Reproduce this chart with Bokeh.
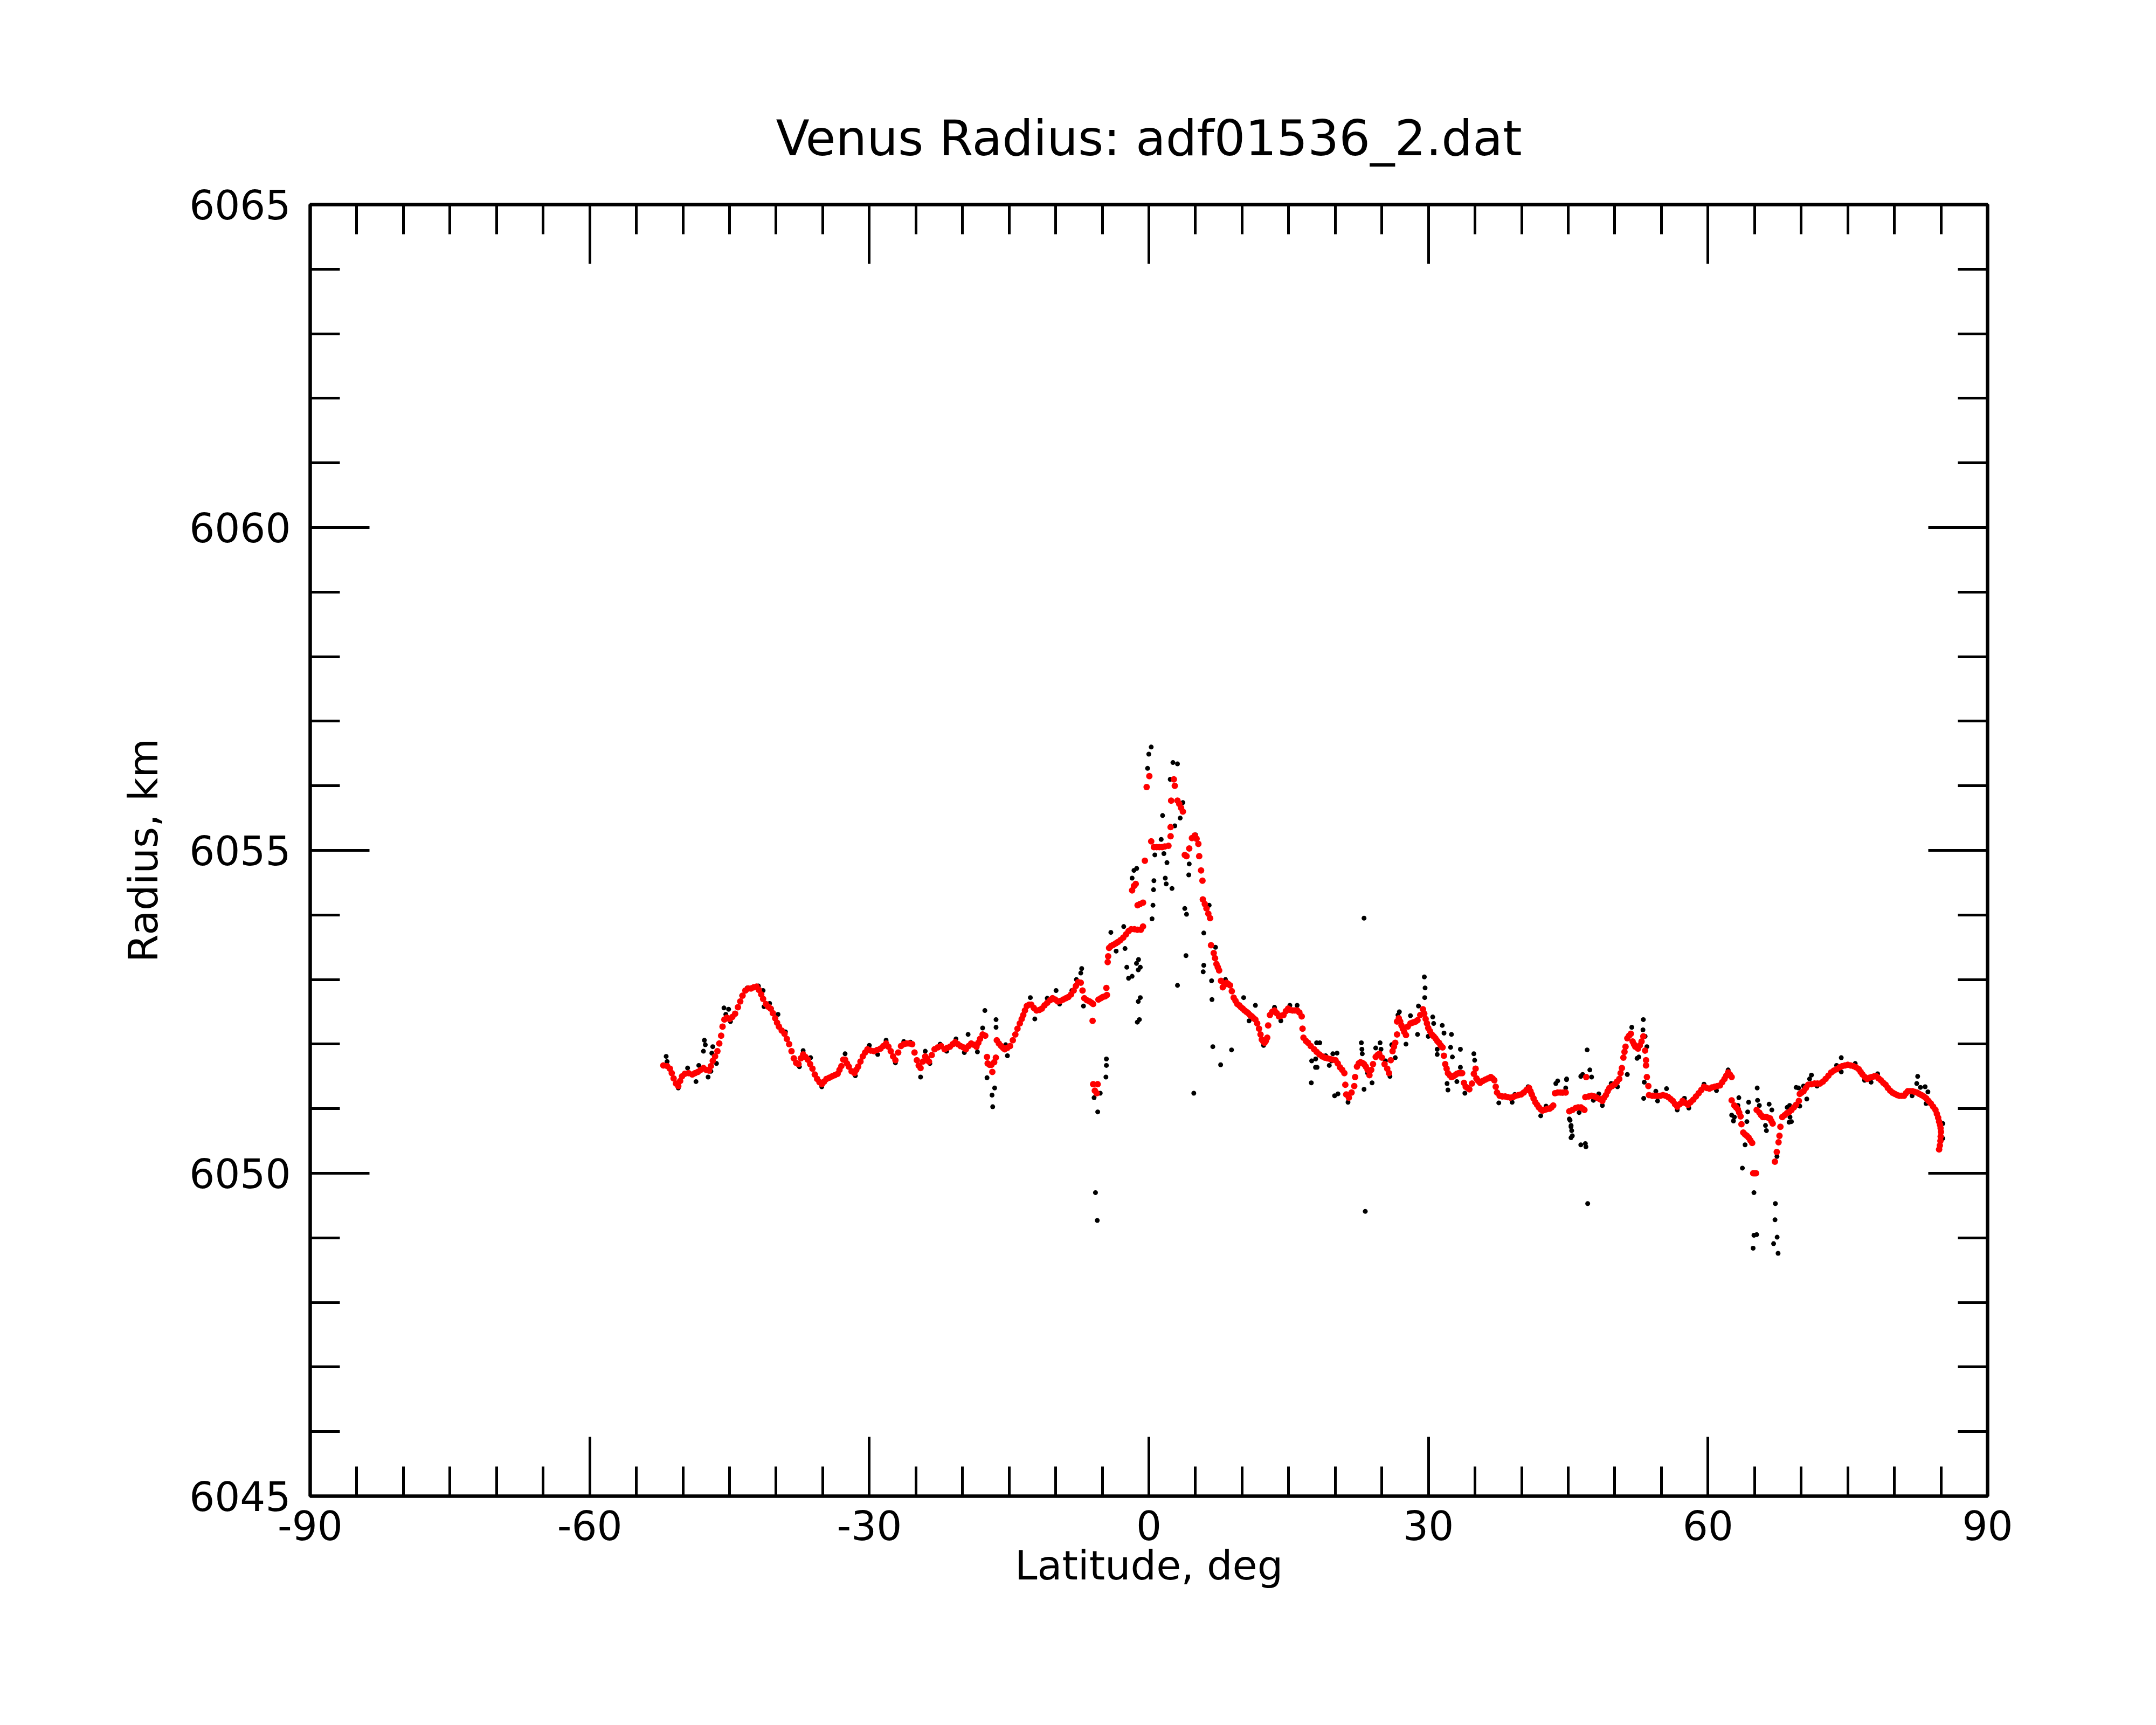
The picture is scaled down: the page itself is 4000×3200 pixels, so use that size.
from bokeh.plotting import figure
from bokeh.models import Range1d, LinearAxis, SingleIntervalTicker, CustomJSTickFormatter
from bokeh.embed import file_html
from bokeh.resources import INLINE

TITLE = "Venus Radius: adf01536_2.dat"
XLABEL = "Latitude, deg"
YLABEL = "Radius, km"
x_ticks = [-90, -60, -30, 0, 30, 60, 90]
x_tick_labels = ["-90", "-60", "-30", "0", "30", "60", "90"]
y_ticks = [6045, 6050, 6055, 6060, 6065]
y_tick_labels = ["6045", "6050", "6055", "6060", "6065"]

# smoothed radius (red)
red_lat = [-52.1, -51.7, -51.4, -51.2, -51.0, -50.75, -50.5, -50.3, -50.1, -49.8, -49.4, -49.0, -48.7, -48.4, -48.1, -47.8, -47.5, -47.2, -47.0, -46.8,
           -46.55, -46.3, -46.1, -45.9, -45.75, -45.55, -45.3, -45.0, -44.7, -44.4, -44.1, -43.85, -43.6, -43.3, -43.0, -42.7, -42.4, -42.1, -41.85, -41.6,
           -41.4, -41.1, -40.85, -40.6, -40.35, -40.1, -39.9, -39.7, -39.4, -39.1, -38.85, -38.6, -38.35, -38.1, -37.85, -37.6, -37.35, -37.1, -36.85, -36.6,
           -36.35, -36.1, -35.85, -35.6, -35.35, -35.1, -34.85, -34.6, -34.3, -34.0, -33.7, -33.4, -33.2, -33.0, -32.8, -32.6, -32.4, -32.2, -31.9, -31.6,
           -31.4, -31.2, -30.95, -30.7, -30.45, -30.2, -29.85, -29.5, -29.15, -28.8, -28.5, -28.2, -27.95, -27.7, -27.45, -27.2, -26.9, -26.6, -26.3, -26.0,
           -25.7, -25.4, -25.15, -24.9, -24.7, -24.5, -24.25, -24.0, -23.8, -23.6, -23.3, -23.0, -22.65, -22.3,
           -21.92, -21.65, -21.35, -21.05, -20.78, -20.5, -20.21, -19.9, -19.64, -19.35, -19.07, -18.8, -18.5, -18.3, -18.12, -17.84, -17.56,
           -17.37, -17.3, -17.1, -16.9, -16.8, -16.6, -16.42,
           -16.32, -16.1, -15.85, -15.65, -15.47, -15.2, -14.9, -14.6, -14.33, -14.1, -13.85, -13.65, -13.48, -13.3, -13.1, -12.85, -12.62, -12.35, -12.05, -11.75,
           -11.48, -11.2, -10.91, -10.6, -10.34, -10.05, -9.77, -9.5, -9.2, -8.9, -8.64, -8.35, -8.07, -7.83, -7.59, -7.31, -7.12, -6.93, -6.65, -6.36,
           -6.15, -5.98, -6.04, -5.98, -5.8, -5.6, -5.5,
           -5.41, -5.15, -4.94, -4.7, -4.5, -4.56, -4.42, -4.37, -4.27, -4.05, -3.8, -3.55, -3.32, -3.05, -2.75, -2.45, -2.18, -1.9, -1.55, -1.24, -0.86,
           -1.8, -1.6, -1.41, -1.21, -0.95, -0.63, -0.63, -0.43, -0.24, 0.05,
           0.25, 0.54, 0.83, 1.12, 1.42, 1.71, 2.10, 2.33, 2.33, 2.39, 2.68, 2.78, 3.07, 3.26, 3.45, 3.65, 3.85, 4.04, 4.33, 4.62,
           4.92, 5.12, 5.31, 5.40, 5.60, 5.75, 5.79, 6.0, 6.18, 6.38, 6.57, 6.67, 6.96, 7.1, 7.25, 7.4, 7.54, 7.74, 7.93, 8.12,
           8.32, 8.52, 8.71, 8.9, 9.10, 9.3, 9.49, 9.7, 9.88, 10.07, 10.27, 10.47, 10.66, 10.85, 11.05, 11.25, 11.43, 11.62, 11.82, 11.98,
           12.12, 12.27, 12.41, 12.55, 12.70, 12.80, 12.99, 13.24, 13.48, 13.72, 13.96, 14.2, 14.45, 14.7, 14.94, 15.18, 15.42, 15.66, 15.91, 16.15,
           16.40, 16.49, 16.59, 16.85, 17.08, 17.37,
           17.73, 18.0, 18.3, 18.6, 18.88, 19.15, 19.45, 19.75, 20.03, 20.27, 20.51, 20.75, 20.98, 21.08, 21.18, 21.46, 21.75, 22.04, 22.13, 22.33,
           22.52, 22.71, 22.9, 23.09, 23.28, 23.47, 23.67, 23.86, 24.05, 24.34, 24.53, 24.72, 25.01, 25.29, 25.58, 25.77, 25.96, 26.15, 26.3, 26.44,
           26.63, 26.63, 26.82, 26.97, 27.11, 27.25, 27.40, 27.59, 27.78, 28.07, 28.26, 28.45, 28.64, 28.83, 29.12, 29.41, 29.55, 29.70, 29.84, 29.98,
           30.17, 30.37, 30.56, 30.75, 30.94, 31.13, 31.32, 31.52, 31.66, 31.80, 31.95, 32.09, 32.28, 32.47, 32.66, 32.86, 33.05, 33.24, 33.43, 33.62,
           33.81, 34.0, 34.2, 34.39, 34.67, 34.87, 35.06, 35.15, 35.35, 35.54, 35.83, 36.11, 36.4, 36.69, 36.88, 37.07, 37.22, 37.36, 37.64, 37.93,
           38.22, 38.5, 38.79, 39.08, 39.37, 39.65, 39.94, 40.23, 40.52, 40.80, 40.95, 41.09, 41.28, 41.47, 41.66, 41.85, 42.05, 42.24, 42.43, 42.62,
           42.81, 43.0, 43.2, 43.39, 43.58, 43.87, 44.15, 44.44, 44.73,
           45.12, 45.45, 45.79, 46.07, 46.36, 46.55, 46.74, 46.84, 46.93, 47.2, 47.51, 47.8, 48.08, 48.37, 48.66, 48.85, 49.04, 49.23, 49.42, 49.71,
           50.0, 50.24, 50.48, 50.62, 50.76, 50.92, 51.04, 51.15, 51.34, 51.53, 51.72, 51.91, 52.05, 52.20, 52.49, 52.68, 52.87, 53.06, 53.25, 53.35,
           53.35, 53.44, 53.60, 53.67, 54.02, 54.3, 54.59, 54.88, 55.17, 55.45, 55.74, 55.98, 56.22, 56.46, 56.70, 56.98, 57.27, 57.56, 57.85, 58.13,
           58.42, 58.71, 59.0, 59.28, 59.57, 59.86, 60.15, 60.43, 60.72, 61.0, 61.29, 61.53, 61.77, 61.96, 62.16, 62.35, 62.54, 62.54, 62.83, 63.02,
           63.21, 63.35, 63.50, 63.59, 63.78, 63.98, 64.17, 64.36, 64.55, 64.74, 64.85, 65.0, 65.15, 65.22, 65.51, 65.7, 65.89, 66.08, 66.27, 66.47,
           66.66, 66.8, 66.94,
           67.18, 67.38, 67.57, 67.67, 67.77, 67.97, 68.22, 68.47, 68.72, 68.96, 69.21, 69.46, 69.75, 69.85, 70.05, 70.25, 70.5, 70.74, 71.1, 71.44,
           71.74, 72.03, 72.33, 72.62, 72.92, 73.22, 73.51, 73.81, 74.11, 74.41, 74.7, 75.0, 75.3, 75.59, 75.89, 76.19, 76.38, 76.58, 76.83, 77.08,
           77.33, 77.57, 77.82, 78.07, 78.31, 78.56, 78.81, 79.06, 79.3, 79.55, 79.8, 80.05, 80.3, 80.54, 80.79, 81.04, 81.24, 81.44, 81.68, 81.93,
           82.18, 82.43, 82.67, 82.92, 83.17, 83.42, 83.66, 83.91, 84.16, 84.41, 84.56, 84.70, 84.80, 84.90, 84.96, 85.0, 84.97, 84.94, 84.88, 84.8]
red_rad = [6051.67, 6051.66, 6051.62, 6051.55, 6051.47, 6051.39, 6051.35, 6051.43, 6051.50, 6051.54, 6051.55, 6051.53, 6051.55, 6051.57, 6051.60, 6051.63, 6051.60, 6051.59, 6051.66, 6051.74,
           6051.81, 6051.89, 6052.01, 6052.13, 6052.27, 6052.38, 6052.41, 6052.39, 6052.42, 6052.47, 6052.57, 6052.66, 6052.75, 6052.83, 6052.86, 6052.86, 6052.88, 6052.89, 6052.84, 6052.77,
           6052.70, 6052.62, 6052.58, 6052.55, 6052.48, 6052.40, 6052.33, 6052.27, 6052.21, 6052.16, 6052.08, 6052.00, 6051.89, 6051.78, 6051.71, 6051.69, 6051.78, 6051.84, 6051.80, 6051.76,
           6051.69, 6051.62, 6051.53, 6051.46, 6051.41, 6051.38, 6051.42, 6051.46, 6051.48, 6051.50, 6051.52, 6051.54, 6051.60, 6051.66, 6051.76, 6051.76, 6051.70, 6051.65, 6051.58, 6051.55,
           6051.60, 6051.65, 6051.73, 6051.81, 6051.87, 6051.92, 6051.90, 6051.89, 6051.91, 6051.93, 6051.97, 6052.01, 6051.96, 6051.89, 6051.81, 6051.75, 6051.87, 6051.97, 6052.00, 6052.01,
           6052.01, 6052.00, 6051.87, 6051.75, 6051.67, 6051.63, 6051.73, 6051.81, 6051.77, 6051.73, 6051.83, 6051.92, 6051.95, 6051.97,
           6051.92, 6051.94, 6051.96, 6052.00, 6052.03, 6052.00, 6051.97, 6051.95, 6051.92, 6051.97, 6052.01, 6051.99, 6051.96, 6052.02, 6052.08, 6052.15, 6052.13,
           6051.80, 6051.70, 6051.68, 6051.68, 6051.57, 6051.72, 6051.79,
           6052.06, 6052.01, 6051.97, 6051.94, 6051.92, 6051.94, 6051.97, 6052.06, 6052.15, 6052.24, 6052.32, 6052.39, 6052.45, 6052.52, 6052.59, 6052.61, 6052.61, 6052.56, 6052.52, 6052.53,
           6052.55, 6052.60, 6052.64, 6052.68, 6052.71, 6052.69, 6052.66, 6052.67, 6052.69, 6052.71, 6052.73, 6052.77, 6052.83, 6052.90, 6052.96, 6052.95, 6052.83, 6052.71, 6052.68, 6052.66,
           6052.64, 6052.62, 6052.36, 6051.38, 6051.28, 6051.24, 6051.38,
           6052.69, 6052.71, 6052.73, 6052.74, 6052.76, 6052.87, 6053.27, 6053.36, 6053.49, 6053.52, 6053.54, 6053.56, 6053.58, 6053.61, 6053.65, 6053.70, 6053.75, 6053.78, 6053.78, 6053.77, 6053.77,
           6054.38, 6054.45, 6054.48, 6054.15, 6054.17, 6054.19, 6053.82, 6054.84, 6055.98, 6056.15,
           6055.14, 6055.05, 6055.05, 6055.05, 6055.05, 6055.06, 6055.07, 6055.22, 6055.36, 6055.77, 6056.10, 6056.00, 6055.77, 6055.72, 6055.66, 6055.60, 6054.93, 6054.91, 6055.03, 6055.19,
           6055.23, 6055.18, 6055.10, 6054.91, 6054.69, 6054.53, 6054.24, 6054.17, 6054.10, 6054.02, 6053.95, 6053.53, 6053.41, 6053.33, 6053.24, 6053.19, 6053.14, 6052.98, 6052.88, 6052.92,
           6052.95, 6052.93, 6052.91, 6052.82, 6052.72, 6052.67, 6052.62, 6052.60, 6052.57, 6052.55, 6052.52, 6052.50, 6052.48, 6052.45, 6052.43, 6052.40, 6052.38, 6052.32, 6052.24, 6052.15,
           6052.07, 6052.04, 6052.02, 6052.05, 6052.10, 6052.29, 6052.45, 6052.50, 6052.52, 6052.48, 6052.43, 6052.44, 6052.45, 6052.51, 6052.55, 6052.53, 6052.52, 6052.52, 6052.52, 6052.49,
           6052.43, 6052.24, 6052.10, 6052.05, 6052.02, 6051.97,
           6051.92, 6051.88, 6051.84, 6051.81, 6051.79, 6051.78, 6051.77, 6051.76, 6051.75, 6051.70, 6051.64, 6051.60, 6051.55, 6051.37, 6051.22, 6051.17, 6051.25, 6051.35, 6051.49, 6051.65,
           6051.70, 6051.72, 6051.71, 6051.69, 6051.65, 6051.60, 6051.52, 6051.60, 6051.69, 6051.80, 6051.83, 6051.85, 6051.79, 6051.69, 6051.62, 6051.55, 6051.75, 6051.89, 6051.96, 6052.02,
           6052.15, 6052.35, 6052.40, 6052.35, 6052.29, 6052.24, 6052.19, 6052.14, 6052.27, 6052.32, 6052.33, 6052.34, 6052.35, 6052.37, 6052.45, 6052.54, 6052.47, 6052.39, 6052.32, 6052.25,
           6052.20, 6052.15, 6052.12, 6052.09, 6052.05, 6052.02, 6051.98, 6051.95, 6051.82, 6051.69, 6051.62, 6051.55, 6051.52, 6051.49, 6051.50, 6051.52, 6051.54, 6051.55, 6051.55, 6051.55,
           6051.40, 6051.34, 6051.32, 6051.30, 6051.39, 6051.54, 6051.62, 6051.47, 6051.43, 6051.40, 6051.43, 6051.45, 6051.47, 6051.49, 6051.47, 6051.44, 6051.34, 6051.25, 6051.20, 6051.19,
           6051.19, 6051.18, 6051.17, 6051.18, 6051.20, 6051.21, 6051.22, 6051.25, 6051.29, 6051.32, 6051.27, 6051.22, 6051.16, 6051.10, 6051.06, 6051.02, 6050.99, 6050.97, 6050.98, 6050.99,
           6051.00, 6051.00, 6051.02, 6051.05, 6051.24, 6051.25, 6051.25, 6051.25, 6051.25,
           6050.96, 6050.98, 6051.01, 6051.02, 6051.02, 6051.00, 6050.98, 6051.18, 6051.49, 6051.19, 6051.20, 6051.19, 6051.17, 6051.15, 6051.12, 6051.17, 6051.21, 6051.27, 6051.32, 6051.35,
           6051.38, 6051.42, 6051.46, 6051.55, 6051.63, 6051.79, 6051.88, 6051.96, 6052.09, 6052.13, 6052.16, 6052.04, 6052.00, 6051.96, 6051.93, 6051.98, 6052.04, 6052.12, 6051.90, 6051.75,
           6051.67, 6051.49, 6051.35, 6051.21, 6051.20, 6051.20, 6051.20, 6051.20, 6051.21, 6051.20, 6051.18, 6051.15, 6051.12, 6051.07, 6051.03, 6051.07, 6051.12, 6051.09, 6051.06, 6051.10,
           6051.14, 6051.19, 6051.24, 6051.29, 6051.34, 6051.32, 6051.31, 6051.33, 6051.34, 6051.35, 6051.36, 6051.41, 6051.46, 6051.51, 6051.56, 6051.53, 6051.49, 6051.13, 6051.05, 6051.02,
           6050.99, 6050.94, 6050.88, 6050.76, 6050.63, 6050.60, 6050.58, 6050.55, 6050.51, 6050.47, 6050.00, 6050.00, 6050.00, 6050.98, 6050.94, 6050.90, 6050.87, 6050.87, 6050.87, 6050.86,
           6050.85, 6050.81, 6050.77,
           6050.18, 6050.33, 6050.48, 6050.58, 6050.72, 6050.87, 6050.90, 6050.93, 6050.95, 6050.98, 6051.02, 6051.06, 6051.12, 6051.23, 6051.25, 6051.27, 6051.32, 6051.37, 6051.38, 6051.39,
           6051.39, 6051.39, 6051.42, 6051.46, 6051.51, 6051.56, 6051.59, 6051.61, 6051.64, 6051.66, 6051.67, 6051.68, 6051.67, 6051.66, 6051.64, 6051.61, 6051.57, 6051.53, 6051.49, 6051.46,
           6051.48, 6051.49, 6051.50, 6051.50, 6051.47, 6051.44, 6051.40, 6051.37, 6051.32, 6051.28, 6051.25, 6051.23, 6051.21, 6051.20, 6051.20, 6051.20, 6051.24, 6051.27, 6051.27, 6051.27,
           6051.26, 6051.25, 6051.23, 6051.21, 6051.19, 6051.16, 6051.12, 6051.08, 6051.03, 6050.98, 6050.92, 6050.86, 6050.80, 6050.75, 6050.70, 6050.64, 6050.57, 6050.50, 6050.43, 6050.37]

# raw radius samples (black)
blk_lat = [-51.8, -51.7, -50.5, -49.5, -48.6, -48.3, -47.7, -47.6, -47.8, -47.3, -47.0, -46.8, -46.9, -46.4, -45.6, -45.1, -45.4, -44.9, -43.7, -43.1,
           -41.9, -41.4, -41.3, -40.7, -40.5, -39.8, -39.0, -37.5, -37.1, -36.3, -35.1, -32.6, -31.5, -30.0, -29.1, -28.2, -27.2, -26.3, -25.6, -24.5,
           -24.0, -23.5, -22.4,
           -21.7, -20.7, -19.8, -19.4, -18.4, -17.84, -17.6, -16.4, -16.4, -17.37, -16.55, -16.83, -16.76, -15.18, -15.37, -12.72, -12.24, -10.91, -9.96, -9.58,
           -8.26, -7.78, -7.21, -7.31, -7.02, -4.56, -4.56, -4.61, -5.88, -5.22, -5.49, -5.73, -5.54, -4.08, -3.51, -2.56, -2.37, -2.18, -1.33, -1.14,
           -1.14, -1.24, -2.7,
           0.25, -0.01, -0.14, -1.6, -1.31, -1.8, 0.54, 0.5, 0.44, 0.34, -1.11, -0.92, -1.8, -0.92, -1.02, 0.64, 1.32, 1.47, 1.61, 1.94,
           1.76, 1.86, 2.48, 2.29, 2.58, 3.07, 2.33, 2.78, 3.36, 3.65, 3.07, 3.85, 4.04, 3.98, 4.33, 4.28, 4.82, 5.01, 5.89, 5.89,
           5.83, 6.47, 6.73, 6.77, 6.86, 7.70, 7.15, 8.22, 8.87, 10.17, 10.75, 11.43, 12.31, 13.48, 14.16, 15.13, 15.91, 17.47, 18.05, 18.34,
           17.43, 20.19, 20.29, 19.6,
           18.0, 17.9, 17.88, 18.97, 19.36, 19.74, 19.93, 20.79, 21.37, 22.8, 22.86, 22.9, 23.09, 23.09, 23.22, 23.47, 23.95, 24.34, 24.81, 24.91,
           25.39, 25.87, 26.06, 26.44, 26.88, 26.73, 27.59, 28.07, 28.93, 28.83, 29.56, 29.64, 29.6, 29.98, 30.46, 30.56, 30.94, 30.94, 31.48, 31.67,
           32.47, 32.38, 32.57, 33.43, 32.0, 32.09, 33.05, 33.43, 33.91, 34.87, 34.96, 37.55, 38.98, 39.27, 40.7, 42.05, 42.62, 43.67, 44.82, 45.2,
           45.3, 45.3, 46.35, 46.35,
           43.87, 44.83, 44.73, 44.35, 45.12, 45.31, 45.37, 45.44, 46.17, 46.84, 46.9, 47.03, 47.32, 46.55, 47.09, 47.51, 47.70, 48.66, 48.28, 49.61,
           50.29, 51.34, 51.82, 52.39, 52.58, 53.06, 53.02, 53.25, 53.16, 53.1, 53.44, 54.4, 55.55, 54.59, 56.70, 57.47, 57.94, 59.57, 60.91, 62.16,
           62.54, 62.73, 63.31, 63.21, 63.69, 63.98, 64.17, 64.26, 64.36, 65.28, 65.32, 65.51, 64.93, 64.93, 65.22, 64.84, 66.27, 66.17, 66.56, 66.85,
           67.23, 67.19, 67.42, 67.04, 67.52, 68.95, 68.76, 69.72, 70.39, 62.83,
           74.3, 73.8, 74.3, 75.8, 71.1, 70.9, 69.46, 70.25, 70.6, 69.85, 68.5, 68.8, 68.7, 71.7, 76.8, 77.5, 78.2, 79.75, 81.9, 82.5,
           82.4, 82.8, 83.3, 83.6, 83.4, 85.2, 85.2, 67.4]
blk_rad = [6051.81, 6051.73, 6051.32, 6051.63, 6051.42, 6051.67, 6052.06, 6051.99, 6051.89, 6051.49, 6051.58, 6051.96, 6051.86, 6051.70, 6052.56, 6052.54, 6052.46, 6052.35, 6052.75, 6052.87,
           6052.90, 6052.83, 6052.58, 6052.63, 6052.55, 6052.46, 6052.19, 6051.65, 6051.90, 6051.79, 6051.34, 6051.85, 6051.51, 6051.98, 6051.84, 6052.06, 6051.71, 6052.04, 6052.03, 6051.49,
           6051.89, 6051.70, 6052.00,
           6051.89, 6052.08, 6051.87, 6052.15, 6051.88, 6052.25, 6052.52, 6052.38, 6052.26, 6051.48, 6051.32, 6051.21, 6051.03, 6051.82, 6051.99, 6052.72, 6052.39, 6052.71, 6052.83, 6052.62,
           6052.83, 6053.00, 6053.17, 6053.10, 6052.59, 6051.77, 6051.67, 6051.49, 6051.17, 6051.24, 6050.95, 6049.70, 6049.27, 6053.73, 6053.44, 6053.48, 6053.19, 6053.02, 6053.25, 6053.15,
           6052.66, 6052.34, 6053.82,
           6056.60, 6056.49, 6056.27, 6054.69, 6054.72, 6054.57, 6054.53, 6054.39, 6054.15, 6053.94, 6053.31, 6053.19, 6053.05, 6052.72, 6052.38, 6054.93, 6055.17, 6055.54, 6054.95, 6054.81,
           6054.57, 6054.48, 6054.41, 6056.10, 6056.36, 6056.34, 6055.77, 6055.38, 6055.50, 6055.74, 6052.91, 6054.10, 6054.01, 6053.37, 6054.79, 6054.62, 6051.24, 6055.24, 6053.72, 6053.22,
           6053.12, 6054.15, 6052.98, 6052.69, 6051.96, 6051.68, 6053.50, 6053.00, 6051.91, 6052.72, 6052.36, 6052.60, 6051.98, 6052.57, 6052.36, 6052.60, 6052.60, 6051.74, 6051.64, 6052.02,
           6051.40, 6051.86, 6051.23, 6051.74,
           6052.02, 6051.77, 6051.64, 6051.82, 6051.67, 6051.85, 6051.20, 6051.60, 6051.10, 6052.02, 6051.92, 6051.85, 6051.30, 6053.95, 6049.41, 6051.55, 6051.40, 6051.94, 6052.02, 6051.92,
           6051.74, 6051.50, 6051.99, 6051.79, 6052.50, 6052.45, 6052.00, 6052.44, 6052.59, 6052.15, 6053.04, 6052.87, 6052.72, 6052.12, 6052.42, 6052.32, 6051.92, 6051.84, 6052.29, 6052.17,
           6052.15, 6051.95, 6051.80, 6051.92, 6051.39, 6051.29, 6051.42, 6051.64, 6051.24, 6051.85, 6051.75, 6051.09, 6051.10, 6051.22, 6051.34, 6050.89, 6051.04, 6051.39, 6051.45, 6050.82,
           6050.72, 6050.55, 6051.50, 6050.44,
           6051.43, 6051.46, 6051.32, 6051.24, 6050.84, 6050.74, 6050.66, 6050.58, 6050.94, 6050.46, 6050.41, 6051.91, 6051.60, 6051.53, 6049.53, 6051.49, 6051.13, 6051.05, 6051.23, 6051.39,
           6051.34, 6051.53, 6052.26, 6051.78, 6051.80, 6052.38, 6052.22, 6052.12, 6051.41, 6051.16, 6051.96, 6051.27, 6051.31, 6051.12, 6050.98, 6051.16, 6051.01, 6051.38, 6051.28, 6051.60,
           6050.90, 6050.81, 6051.17, 6051.05, 6050.08, 6050.44, 6050.80, 6050.95, 6051.10, 6051.32, 6051.13, 6051.05, 6049.70, 6049.04, 6049.05, 6048.84, 6050.66, 6050.74, 6051.07, 6050.98,
           6049.53, 6049.28, 6049.01, 6048.91, 6048.76, 6050.80, 6051.05, 6051.32, 6051.34, 6050.87,
           6051.79, 6051.67, 6051.57, 6051.70, 6051.52, 6051.46, 6051.33, 6051.35, 6051.15, 6051.04, 6051.02, 6050.87, 6050.79, 6051.35, 6051.44, 6051.41, 6051.54, 6051.24, 6051.20, 6051.50,
           6051.39, 6051.33, 6051.34, 6051.26, 6051.08, 6050.77, 6050.54, 6050.26]

X_MIN, X_MAX, X_STEP, X_MINOR = -90, 90, 30, 6
Y_MIN, Y_MAX, Y_STEP, Y_MINOR = 6045, 6065, 5, 5

FONT = "DejaVu Sans"

p = figure(width=3984, height=3184, output_backend="svg", toolbar_location=None,
           x_range=Range1d(X_MIN, X_MAX), y_range=Range1d(Y_MIN, Y_MAX),
           min_border_left=575, min_border_right=297, min_border_top=379, min_border_bottom=409,
           background_fill_color="white", border_fill_color="white")

bx = p.below[0]
ly = p.left[0]

p.title.text = TITLE
p.title.align = "center"
p.title.text_font = FONT
p.title.text_font_size = "91px"
p.title.text_font_style = "normal"
p.title.text_color = "black"
p.title.standoff = 142

p.xgrid.visible = False
p.ygrid.visible = False
p.outline_line_color = "black"
p.outline_line_width = 6

xt = SingleIntervalTicker(interval=X_STEP, num_minor_ticks=X_MINOR)
yt = SingleIntervalTicker(interval=Y_STEP, num_minor_ticks=Y_MINOR)
blank = CustomJSTickFormatter(code="return '';")

top_ax = LinearAxis(ticker=xt, formatter=blank, major_label_standoff=0)
right_ax = LinearAxis(ticker=yt, formatter=blank, major_label_standoff=0)
p.add_layout(top_ax, "above")
p.add_layout(right_ax, "right")

bx.ticker = xt
ly.ticker = yt
bx.major_label_overrides = dict(zip(x_ticks, x_tick_labels))
ly.major_label_overrides = dict(zip(y_ticks, y_tick_labels))

for ax in [bx, ly, top_ax, right_ax]:
    ax.axis_line_color = "black"
    ax.axis_line_width = 6
    ax.major_tick_line_color = "black"
    ax.minor_tick_line_color = "black"
    ax.major_tick_line_width = 5
    ax.minor_tick_line_width = 5
    ax.major_tick_in = 110
    ax.major_tick_out = 0
    ax.minor_tick_in = 55
    ax.minor_tick_out = 0

for ax in [bx, ly]:
    ax.major_label_text_font = FONT
    ax.major_label_text_font_size = "74px"
    ax.major_label_text_color = "black"
    ax.axis_label_text_font = FONT
    ax.axis_label_text_font_size = "75px"
    ax.axis_label_text_font_style = "normal"
    ax.axis_label_text_color = "black"

bx.axis_label = XLABEL
ly.axis_label = YLABEL
bx.major_label_standoff = 26
bx.axis_label_standoff = 0
ly.major_label_standoff = 36
ly.axis_label_standoff = 38

p.scatter(blk_lat, blk_rad, size=9, color="black", line_color=None)
p.scatter(red_lat, red_rad, size=12, color="red", line_color=None)

open("out.html", "w").write(file_html(p, INLINE))
